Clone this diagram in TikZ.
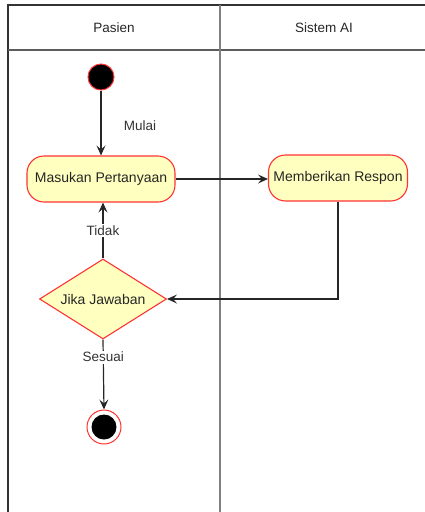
\documentclass[tikz,border=0pt]{standalone}
\usepackage{fontspec}
\setmainfont{Liberation Sans}
\usetikzlibrary{shapes.geometric,arrows.meta}
\definecolor{actfill}{HTML}{FFFFC0}
\definecolor{actline}{HTML}{FF3333}
\definecolor{laneline}{HTML}{333333}
\tikzset{
  lane/.style={draw=laneline, line width=1.3pt},
  activity/.style={draw=actline, fill=actfill, rounded corners=17pt, line width=1.1pt,
    minimum height=46pt, inner sep=0pt, font=\fontsize{14}{16}\selectfont, text=black!85},
  decision/.style={diamond, draw=actline, fill=actfill, line width=1.1pt, aspect=1.59,
    minimum width=127pt, minimum height=80pt, inner sep=0pt, font=\fontsize{14}{16}\selectfont, text=black!85},
  flow/.style={draw=black!85, line width=1.2pt, -{Stealth[length=10pt,width=9pt,inset=4pt]}},
  lbl/.style={fill=white, inner sep=1.5pt, font=\fontsize{13.5}{15}\selectfont, text=black!80},
  hdr/.style={font=\fontsize{13.5}{15}\selectfont, text=black!85}
}
\begin{document}
\begin{tikzpicture}[x=1pt,y=-1pt]
\useasboundingbox (0,0) rectangle (425,512);
% swimlane frame
\draw[lane] (8,512) -- (8,5) -- (425,5);
\draw[lane, draw=laneline!80] (8,50) -- (425,50);
\draw[lane, draw=gray, line width=1.2pt] (220,5) -- (220,512);
\node[hdr] (hp) at (114,28) {Pasien};
\node[hdr] (hs) at (324,28) {Sistem AI};
% nodes
\node[circle, fill=black, draw=actline, line width=1pt, minimum size=26pt, inner sep=0pt] (start) at (101,77) {};
\node[activity, minimum width=148pt] (ask) at (101,179) {Masukan Pertanyaan};
\node[activity, minimum width=139pt] (resp) at (338,178) {Memberikan Respon};
\node[decision] (dec) at (103,299) {Jika Jawaban};
\node[circle, draw=actline, fill=white, line width=1pt, minimum size=34pt, inner sep=0pt] (end) at (104,427) {};
\node[circle, fill=black, minimum size=25pt, inner sep=0pt] (endin) at (end.center) {};
\coordinate (turn) at (resp.south |- dec.east);
% connectors
\draw[flow] (start) -- (ask);
\node[font=\fontsize{13.5}{15}\selectfont, text=black!80] (mulai) at (140,126) {Mulai};
\draw[flow] (ask.east) -- (resp.west |- ask.east);
\draw[flow] (resp.south) -- (turn) -- (dec.east);
\draw[flow] (dec.north) -- (dec.north |- ask.south) node[lbl, pos=0.5] (tidak) {Tidak};
\draw[flow] (dec.south) -- (end.north) node[lbl, pos=0.25] (sesuai) {Sesuai};
\end{tikzpicture}
\end{document}
